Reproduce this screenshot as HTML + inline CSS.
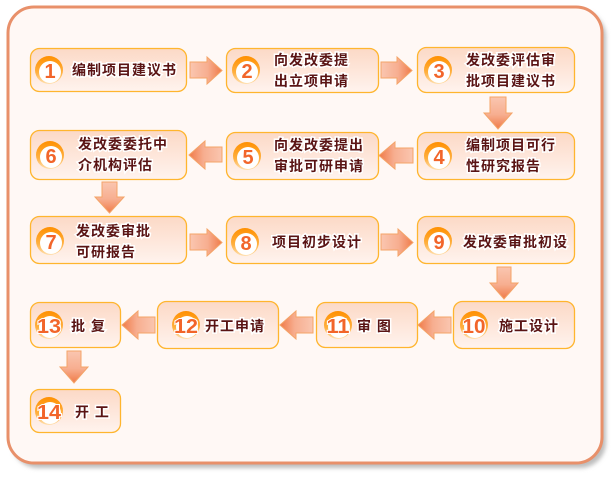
<!DOCTYPE html>
<html>
<head>
<meta charset="utf-8">
<style>
html,body{margin:0;padding:0;background:#fff;}
svg{display:block;}
.t{font-family:"Liberation Sans","Noto Sans CJK SC","WenQuanYi Zen Hei",sans-serif;font-weight:bold;font-size:14px;fill:#5a1414;stroke:#fff;stroke-width:3px;paint-order:stroke;letter-spacing:1px;}
.n{font-family:"Liberation Sans",sans-serif;font-weight:bold;font-size:20px;fill:#f2652a;stroke:#fff;stroke-width:2px;paint-order:stroke;text-anchor:middle;}
</style>
</head>
<body>
<svg width="612" height="479" viewBox="0 0 612 479" xmlns="http://www.w3.org/2000/svg">
<defs>
  <linearGradient id="box" x1="0" y1="0" x2="0" y2="1">
    <stop offset="0" stop-color="#fcd9c6"/>
    <stop offset="1" stop-color="#fff3ee"/>
  </linearGradient>
  <linearGradient id="ar" x1="0" y1="0" x2="1" y2="0">
    <stop offset="0" stop-color="#fac6b0"/>
    <stop offset="0.55" stop-color="#f7ae90"/>
    <stop offset="1" stop-color="#f07a48"/>
  </linearGradient>
  <linearGradient id="al" x1="1" y1="0" x2="0" y2="0">
    <stop offset="0" stop-color="#fac6b0"/>
    <stop offset="0.55" stop-color="#f7ae90"/>
    <stop offset="1" stop-color="#f07a48"/>
  </linearGradient>
  <linearGradient id="ad" x1="0" y1="0" x2="0" y2="1">
    <stop offset="0" stop-color="#fac6b0"/>
    <stop offset="0.55" stop-color="#f7ae90"/>
    <stop offset="1" stop-color="#f07a48"/>
  </linearGradient>
  <linearGradient id="ring" x1="0" y1="0" x2="0" y2="1">
    <stop offset="0" stop-color="#ff9000"/>
    <stop offset="0.6" stop-color="#ffb040"/>
    <stop offset="1" stop-color="#ffe0b0"/>
  </linearGradient>
  <filter id="blur" x="-10%" y="-10%" width="120%" height="120%">
    <feGaussianBlur stdDeviation="2"/>
  </filter>
</defs>

<!-- frame shadow -->
<rect x="12" y="11" width="594" height="457" rx="26" fill="#bdbdbd" filter="url(#blur)"/>
<!-- frame -->
<rect x="8" y="7" width="594" height="456" rx="26" fill="#fff8f5" stroke="#e8906a" stroke-width="3"/>

<!-- arrows right -->
<g stroke="#f4a468" stroke-width="1">
  <path d="M190,62 H207 V57 L222,70.5 L207,84 V78 H190 Z" fill="url(#ar)"/>
  <path d="M381,62 H397 V57 L412,70.5 L397,84 V78 H381 Z" fill="url(#ar)"/>
  <path d="M190,234 H207 V229 L222,242.5 L207,256 V250 H190 Z" fill="url(#ar)"/>
  <path d="M381,234 H398 V229 L413,242.5 L398,256 V250 H381 Z" fill="url(#ar)"/>
  <!-- arrows left -->
  <path d="M413,148 H395 V142 L379,155.5 L395,169 V163 H413 Z" fill="url(#al)"/>
  <path d="M222,147 H205 V141 L189,155 L205,169 V162 H222 Z" fill="url(#al)"/>
  <path d="M451,317 H434 V311 L418,325 L434,339 V333 H451 Z" fill="url(#al)"/>
  <path d="M313,317 H296 V311 L280,325 L296,339 V333 H313 Z" fill="url(#al)"/>
  <path d="M155,317 H138 V311 L122,325 L138,339 V333 H155 Z" fill="url(#al)"/>
  <!-- arrows down -->
  <path d="M490,97 H506 V113 H512 L498,129 L484,113 H490 Z" fill="url(#ad)"/>
  <path d="M497,267 H511 V283 H518 L504,299 L490,283 H497 Z" fill="url(#ad)"/>
  <path d="M102,182 H117 V197 H124 L109.5,213 L95,197 H102 Z" fill="url(#ad)"/>
  <path d="M67,351 H81 V367 H88 L74,383 L60,367 H67 Z" fill="url(#ad)"/>
</g>

<!-- boxes -->
<g fill="url(#box)" stroke="#ffb52e" stroke-width="1.3">
  <rect x="30.5" y="48.5" width="156" height="43" rx="9"/>
  <rect x="226.5" y="48.5" width="152" height="44" rx="9"/>
  <rect x="417.5" y="47.5" width="157" height="45" rx="9"/>
  <rect x="30.5" y="130.5" width="156" height="49" rx="9"/>
  <rect x="226.5" y="132.5" width="152" height="47" rx="9"/>
  <rect x="417.5" y="132.5" width="157" height="47" rx="9"/>
  <rect x="30.5" y="216.5" width="156" height="47" rx="9"/>
  <rect x="226.5" y="216.5" width="152" height="47" rx="9"/>
  <rect x="417.5" y="216.5" width="157" height="47" rx="9"/>
  <rect x="453.5" y="301.5" width="121" height="47" rx="9"/>
  <rect x="316.5" y="302.5" width="101" height="45" rx="9"/>
  <rect x="157.5" y="301.5" width="121" height="47" rx="9"/>
  <rect x="30.5" y="302.5" width="90" height="45" rx="9"/>
  <rect x="30.5" y="389.5" width="90" height="43" rx="9"/>
</g>

<!-- circles -->
<g>
  <g transform="translate(49,70)"><circle r="14" fill="url(#ring)"/><circle cx="1" cy="2" r="11" fill="#fff"/></g>
  <g transform="translate(246,70)"><circle r="14" fill="url(#ring)"/><circle cx="1" cy="2" r="11" fill="#fff"/></g>
  <g transform="translate(438,70)"><circle r="14" fill="url(#ring)"/><circle cx="1" cy="2" r="11" fill="#fff"/></g>
  <g transform="translate(50,155)"><circle r="14" fill="url(#ring)"/><circle cx="1" cy="2" r="11" fill="#fff"/></g>
  <g transform="translate(247,156)"><circle r="14" fill="url(#ring)"/><circle cx="1" cy="2" r="11" fill="#fff"/></g>
  <g transform="translate(438,156)"><circle r="14" fill="url(#ring)"/><circle cx="1" cy="2" r="11" fill="#fff"/></g>
  <g transform="translate(50,241)"><circle r="14" fill="url(#ring)"/><circle cx="1" cy="2" r="11" fill="#fff"/></g>
  <g transform="translate(245,242)"><circle r="14" fill="url(#ring)"/><circle cx="1" cy="2" r="11" fill="#fff"/></g>
  <g transform="translate(438,241)"><circle r="14" fill="url(#ring)"/><circle cx="1" cy="2" r="11" fill="#fff"/></g>
  <g transform="translate(474,325)"><circle r="14" fill="url(#ring)"/><circle cx="1" cy="2" r="11" fill="#fff"/></g>
  <g transform="translate(338,325)"><circle r="14" fill="url(#ring)"/><circle cx="1" cy="2" r="11" fill="#fff"/></g>
  <g transform="translate(186,325)"><circle r="14" fill="url(#ring)"/><circle cx="1" cy="2" r="11" fill="#fff"/></g>
  <g transform="translate(49,325)"><circle r="14" fill="url(#ring)"/><circle cx="1" cy="2" r="11" fill="#fff"/></g>
  <g transform="translate(49,411)"><circle r="14" fill="url(#ring)"/><circle cx="1" cy="2" r="11" fill="#fff"/></g>
</g>

<!-- numbers -->
<g class="n">
  <text x="50" y="78">1</text>
  <text x="247" y="78">2</text>
  <text x="439" y="78">3</text>
  <text x="51" y="163">6</text>
  <text x="248" y="164">5</text>
  <text x="439" y="164">4</text>
  <text x="51" y="249">7</text>
  <text x="246" y="250">8</text>
  <text x="439" y="249">9</text>
  <text x="474" y="333" textLength="23" lengthAdjust="spacingAndGlyphs">10</text>
  <text x="338" y="333" textLength="23" lengthAdjust="spacingAndGlyphs">11</text>
  <text x="186" y="333" textLength="24" lengthAdjust="spacingAndGlyphs">12</text>
  <text x="49" y="333" textLength="24" lengthAdjust="spacingAndGlyphs">13</text>
  <text x="49" y="419" textLength="24" lengthAdjust="spacingAndGlyphs">14</text>
</g>

<!-- labels -->
<g class="t">
  <text x="72" y="75">编制项目建议书</text>
  <text x="274" y="65">向发改委提</text>
  <text x="274" y="86">出立项申请</text>
  <text x="466" y="65">发改委评估审</text>
  <text x="466" y="86">批项目建议书</text>
  <text x="78" y="149">发改委委托中</text>
  <text x="78" y="170">介机构评估</text>
  <text x="274" y="150">向发改委提出</text>
  <text x="274" y="171">审批可研申请</text>
  <text x="466" y="150">编制项目可行</text>
  <text x="466" y="171">性研究报告</text>
  <text x="76" y="236">发改委审批</text>
  <text x="76" y="257">可研报告</text>
  <text x="272" y="247">项目初步设计</text>
  <text x="463" y="247">发改委审批初设</text>
  <text x="499" y="331">施工设计</text>
  <text x="357" y="331">审 图</text>
  <text x="205" y="331">开工申请</text>
  <text x="71" y="331">批 复</text>
  <text x="75" y="417">开 工</text>
</g>
</svg>
</body>
</html>
